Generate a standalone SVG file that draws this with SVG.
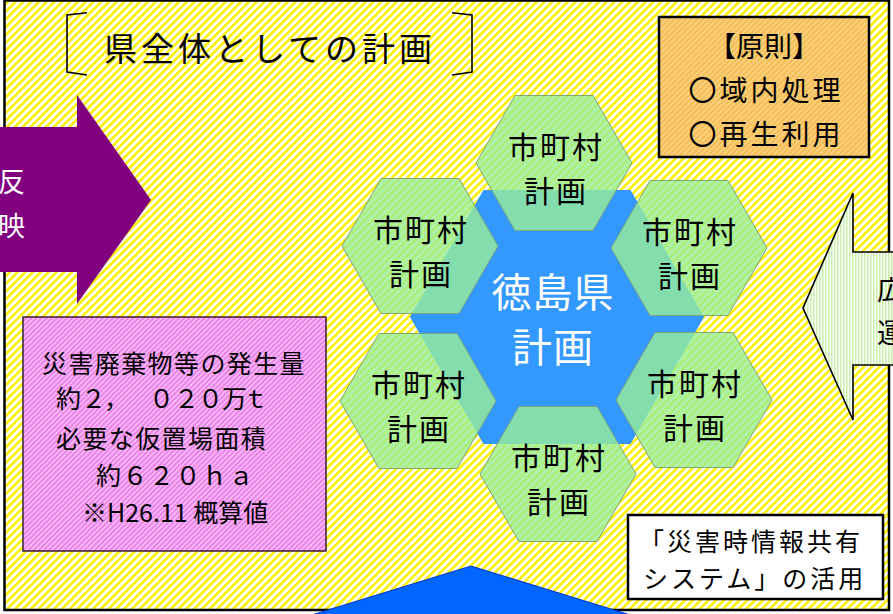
<svg xmlns="http://www.w3.org/2000/svg" width="893" height="614" viewBox="0 0 893 614">
<defs>
<pattern id="bgStripe" width="5.5" height="5.5" patternUnits="userSpaceOnUse" patternTransform="rotate(45)">
<rect width="5.5" height="5.5" fill="#ffffff"/>
<rect width="2.6" height="5.5" fill="#fff000"/>
</pattern>
<pattern id="pinkStripe" width="3.6" height="3.6" patternUnits="userSpaceOnUse" patternTransform="rotate(45)">
<rect width="3.6" height="3.6" fill="#ec84ec"/>
<rect width="1.1" height="3.6" fill="#fbd4f6"/>
</pattern>
<pattern id="orangeStripe" width="4" height="4" patternUnits="userSpaceOnUse" patternTransform="rotate(45)">
<rect width="4" height="4" fill="#f6bf58"/>
<rect width="1.2" height="4" fill="#fad892"/>
</pattern>
<pattern id="greenVStripe" width="3" height="3" patternUnits="userSpaceOnUse">
<rect width="3" height="3" fill="#ffffff"/>
<rect width="1.6" height="3" fill="#c9f0ac"/>
</pattern>
<style>
.t{font-family:"Noto Sans CJK JP","Noto Sans",sans-serif;fill:#000}
.hex{fill:#99ee99;fill-opacity:0.8;stroke:#7fa47f;stroke-width:1}
.ht{font-size:30px;letter-spacing:2px;text-anchor:middle}
.pk{font-size:25px}
.box{stroke:#000;stroke-width:2.5}
</style>
</defs>

<g id="background">
<rect x="4.5" y="0.5" width="884.5" height="609.5" fill="url(#bgStripe)" stroke="#000" stroke-width="2.5"/>
</g>

<g id="title">
<polyline points="87,12.7 67,15 67,72 87,75" fill="none" stroke="#000" stroke-width="1.6"/>
<polyline points="452,12.7 472,15 472,72 452,75" fill="none" stroke="#000" stroke-width="1.6"/>
<text class="t" x="104" y="61" font-size="33" letter-spacing="4">県全体としての計画</text>
</g>

<g id="arrows">
<g id="arrow-hanei">
<polygon points="-10,127 77,127 77,95 151,200 77,304 77,272 -10,272" fill="#800080"/>
<text class="t" x="-2" y="192" font-size="27" style="fill:#fff">反</text>
<text class="t" x="-2" y="236" font-size="27" style="fill:#fff">映</text>
</g>
<g id="arrow-kouiki">
<polygon points="905,252 853,252 853,193 803,308 853,420 853,365 905,365" fill="url(#greenVStripe)" stroke="#000" stroke-width="1.6"/>
<text class="t" x="877" y="300" font-size="27">広</text>
<text class="t" x="877" y="343" font-size="27">運</text>
</g>
<g id="arrow-up">
<polygon points="471,566 650,621 292,621" fill="#0066ff" stroke="#0033cc" stroke-width="1"/>
</g>
</g>

<g id="principle">
<rect x="659" y="17" width="210" height="140" fill="url(#orangeStripe)" class="box"/>
<text class="t" x="764" y="57" font-size="28" text-anchor="middle">【原則】</text>
<text class="t" x="766" y="101" font-size="28" letter-spacing="3" text-anchor="middle">〇域内処理</text>
<text class="t" x="766" y="145" font-size="28" letter-spacing="3" text-anchor="middle">〇再生利用</text>
</g>

<g id="amount">
<rect x="23" y="317" width="303" height="234" fill="url(#pinkStripe)" stroke="#3a1a3a" stroke-width="1.5"/>
<text class="t pk" x="42" y="373" letter-spacing="1.4">災害廃棄物等の発生量</text>
<text class="t pk" x="56 81 104 149 174 198 222 243" y="408">約２，０２０万ｔ</text>
<text class="t pk" x="56" y="448" letter-spacing="1.4">必要な仮置場面積</text>
<text class="t pk" x="96" y="485" letter-spacing="1.5">約６２０ｈａ</text>
<text class="t pk" x="82" y="522">※H26.11 概算値</text>
</g>

<g id="tokushima">
<polygon points="410,317 483.5,190 630.5,190 704,317 630.5,444 483.5,444" fill="#3399ff"/>
</g>

<g id="hex-top">
<polygon class="hex" points="476,163 515,95.5 593,95.5 632,163 593,230.5 515,230.5"/>
<text class="t ht" x="556" y="158">市町村</text>
<text class="t ht" x="556" y="202">計画</text>
</g>
<g id="hex-top-left">
<polygon class="hex" points="342,246 381,178.5 459,178.5 498,246 459,313.5 381,313.5"/>
<text class="t ht" x="421" y="241">市町村</text>
<text class="t ht" x="421" y="285">計画</text>
</g>
<g id="hex-top-right">
<polygon class="hex" points="611,248 650,180.5 728,180.5 767,248 728,315.5 650,315.5"/>
<text class="t ht" x="690" y="243">市町村</text>
<text class="t ht" x="690" y="287">計画</text>
</g>
<g id="hex-bottom-left">
<polygon class="hex" points="340,401 379,333.5 457,333.5 496,401 457,468.5 379,468.5"/>
<text class="t ht" x="419" y="396">市町村</text>
<text class="t ht" x="419" y="440">計画</text>
</g>
<g id="hex-bottom-right">
<polygon class="hex" points="616,400 655,332.5 733,332.5 772,400 733,467.5 655,467.5"/>
<text class="t ht" x="695" y="395">市町村</text>
<text class="t ht" x="695" y="439">計画</text>
</g>
<g id="hex-bottom">
<polygon class="hex" points="480,474 519,406.5 597,406.5 636,474 597,541.5 519,541.5"/>
<text class="t ht" x="559" y="469">市町村</text>
<text class="t ht" x="559" y="513">計画</text>
</g>

<g id="tokushima-label">
<text class="t" x="553" y="307" font-size="40" letter-spacing="1" text-anchor="middle" style="fill:#fff">徳島県</text>
<text class="t" x="553" y="362" font-size="40" letter-spacing="1" text-anchor="middle" style="fill:#fff">計画</text>
</g>

<g id="info-system">
<rect x="628" y="515" width="255" height="84" fill="#fff" class="box"/>
<text class="t" x="639" y="551" font-size="25" letter-spacing="3">「災害時情報共有</text>
<text class="t" x="643" y="588" font-size="25" letter-spacing="3">システム」の活用</text>
</g>
</svg>
